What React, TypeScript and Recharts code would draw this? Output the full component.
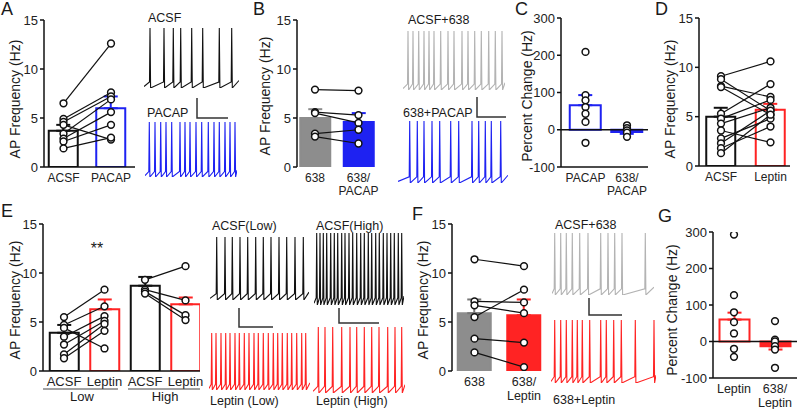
import React from "react";
import {
  ComposedChart,
  LineChart,
  Bar,
  Line,
  Cell,
  XAxis,
  YAxis,
  ErrorBar,
  ReferenceLine,
} from "recharts";

const FONT = '"Liberation Sans", Arial, Helvetica, sans-serif';
const INK = "#111";
const BLUE = "#1e22f2";
const RED = "#ff2323";
const GRAY_BAR = "#8d8d8d";
const GRAY_TRACE = "#b3b3b3";

// ---- panel A: ACSF vs PACAP
const aCats = ["ACSF", "PACAP"];
const aMeans = [3.7, 6.0];
const aErrs = [[0, 0.6], [0, 1.2]];
const aPairs = [
  [6.5, 12.6], [4.9, 7.6], [4.6, 7.2], [4.3, 2.8],
  [3.4, 6.9], [2.9, 5.6], [2.6, 4.3], [1.9, 3.0],
];

// ---- panel B: 638 vs 638/PACAP
const bCats = ["638", "638/\nPACAP"];
const bMeans = [5.0, 4.6];
const bErrs = [[0, 0.9], [0, 0.9]];
const bPairs = [[7.9, 7.8], [5.6, 5.3], [5.5, 4.5], [3.4, 3.8], [3.1, 2.4]];

// ---- panel C: percent change
const cCats = ["PACAP", "638/\nPACAP"];
const cMeans = [66, -6];
const cErrs = [[0, 27], [5, 0]];
const cPacap = [209, 93, 79, 61, 43, 21, -35];
const c638 = [12, 4, -2, -8, -19];

// ---- panel D: ACSF vs Leptin
const dCats = ["ACSF", "Leptin"];
const dMeans = [5.0, 5.7];
const dErrs = [[0, 0.9], [0, 0.6]];
const dPairs = [
  [9.1, 10.6], [8.8, 5.6], [8.1, 7.0], [8.0, 5.2], [5.3, 8.3], [4.8, 6.7],
  [4.3, 5.9], [3.6, 2.4], [2.8, 4.8], [2.3, 5.6], [1.8, 4.0], [1.3, 5.2],
];

// ---- panel E: low / high firing groups
const eCats = ["ACSF", "Leptin", "ACSF", "Leptin"];
const eMeans = [3.9, 6.3, 8.7, 6.8];
const eErrs = [[0, 0.8], [0, 1.0], [0, 0.9], [0, 0.7]];
const eLowPairs = [
  [5.5, 8.3], [4.7, 6.6], [4.4, 2.3], [3.5, 5.6], [2.7, 5.1], [1.7, 4.8], [1.3, 4.1],
];
const eHighPairs = [[9.3, 10.7], [8.3, 7.2], [8.1, 5.7], [7.9, 5.2]];

// ---- panel F: 638 vs 638/Leptin
const fCats = ["638", "638/\nLeptin"];
const fMeans = [5.9, 5.7];
const fErrs = [[0, 1.4], [0, 1.6]];
const fPairs = [[11.4, 10.7], [7.1, 7.0], [6.7, 5.9], [5.5, 8.3], [3.3, 2.9], [1.9, 0.4]];

// ---- panel G: percent change
const gCats = ["Leptin", "638/\nLeptin"];
const gMeans = [60, -13];
const gErrs = [[0, 19], [9, 0]];
const gLeptin = [293, 127, 80, 53, 22, -20, -42];
const g638 = [56, 5, 0, -13, -22, -72];

// ---- example traces: spike times (from trace start) and trace length
const trAcsfA = [6, 20, 29.3, 36.7, 47.7, 58.7, 75.3, 87.7];
const trPacapA = [4.3, 10, 15.7, 21, 26.7, 35, 40, 45, 51, 56.7, 63.3, 69, 74.3, 80, 85, 90];
const tr638B = [5, 10, 15.7, 21, 26, 31, 37.7, 45, 51, 59, 65, 71.7, 78.3, 85.7, 92.3, 99];
const trPacapB = [11.7, 19.3, 26, 34, 41.7, 52.7, 60.7, 74, 80.7, 87.3, 93.3, 102.7];
const trAcsfLow = [6.7, 15, 22.3, 30, 37.7, 45.7, 53.3, 61, 69, 76.7, 85, 93.3];
const trAcsfHigh = [
  2.7, 6, 9.3, 12.7, 16.7, 20.3, 23.7, 27.7, 31, 35, 38.7, 42.7,
  46.7, 50.3, 54.3, 57.7, 61.7, 65.3, 69.3, 73, 76.7, 80.3, 84.3, 87.7,
];
const trLepLow = [
  2.7, 7, 12, 16.7, 21, 26, 30.3, 35.3, 40, 45, 49.3, 54.3, 59.3, 64.3,
  68.7, 73.3, 78.3, 82.7, 87.7, 92.7, 96.7,
];
const trLepHigh = [5.3, 12, 19.7, 28.7, 37, 43.7, 51.3, 58.7, 66, 74.7, 82, 88.7];
const tr638F = [2.7, 8.7, 14.3, 20.3, 27.7, 36, 48.7, 56, 62.7, 70, 93.3];
const trLepF = [3.7, 9.7, 15.3, 21.3, 26.3, 31.3, 38.7, 49.7, 55.3, 62.7, 70.3, 84.3, 103];

type PairSet = { cols: number[]; values: number[][] };

function buildRows(cats: string[], means: number[], errs: number[][], sets: PairSet[]) {
  const rows: any[] = cats.map((c, i) => ({ x: i + 1, name: c, mean: means[i], [`err${i}`]: errs[i] }));
  const keys: string[] = [];
  sets.forEach((set, si) =>
    set.values.forEach((vals, vi) => {
      const key = `s${si}_${vi}`;
      keys.push(key);
      set.cols.forEach((col, k) => {
        rows[col][key] = vals[k];
      });
    })
  );
  return { rows, keys };
}

const V_PEAK = 20;
const V_THR = -52;
const V_TROUGH = -60;

function buildTrace(spikes: number[], end: number) {
  const pts = [{ t: 0, v: V_TROUGH + 2 }];
  spikes.forEach((s) => {
    pts.push({ t: s - 0.5, v: V_THR });
    pts.push({ t: s, v: V_PEAK });
    pts.push({ t: Math.min(s + 0.6, end), v: V_TROUGH });
  });
  const last = spikes[spikes.length - 1];
  if (last + 0.6 < end) pts.push({ t: end, v: V_THR + 2 });
  return pts;
}

function Trace({ left, top, height, end, spikes, color }: any) {
  const data = buildTrace(spikes, end);
  return (
    <div style={{ position: "absolute", left, top }}>
      <LineChart width={end} height={height} data={data} margin={{ top: 0, right: 0, bottom: 0, left: 0 }}>
        <XAxis type="number" dataKey="t" domain={[0, end]} hide />
        <YAxis type="number" domain={[V_TROUGH, V_PEAK]} hide />
        <Line type="linear" dataKey="v" stroke={color} strokeWidth={1.1} dot={false} isAnimationActive={false} />
      </LineChart>
    </div>
  );
}

function CatTick({ x, y, payload, labels, fontSize }: any) {
  const label = labels[Math.round(payload.value) - 1] || "";
  return (
    <text x={x} y={y} textAnchor="middle" fontSize={fontSize} fill="#222">
      {label.split("\n").map((l: string, i: number) => (
        <tspan key={i} x={x} dy={i === 0 ? "0.71em" : "1.12em"}>
          {l}
        </tspan>
      ))}
    </text>
  );
}

function BarPanel(props: any) {
  const {
    cats, rows, keys, x0, x1, y0, y1, c1, c2, yDomain, yTicks, barSize,
    styles, axisLine, zeroLine, linked, catFont,
  } = props;
  const n = cats.length;
  const step = (c2 - c1) / (n - 1);
  const lo = 1 - (c1 - x0) / step;
  const hi = n + (x1 - c2) / step;
  return (
    <div style={{ position: "absolute", left: x0 - 45, top: y0 - 10 }}>
      <ComposedChart
        width={x1 - x0 + 50}
        height={y1 - y0 + 50}
        data={rows}
        margin={{ top: 10, right: 5, bottom: 0, left: 0 }}
      >
        <XAxis
          type="number"
          dataKey="x"
          domain={[lo, hi]}
          ticks={cats.map((_: string, i: number) => i + 1)}
          allowDataOverflow
          interval={0}
          height={40}
          tickLine={false}
          tickSize={0}
          tickMargin={6}
          axisLine={axisLine ? { stroke: INK, strokeWidth: 1.5 } : false}
          tick={(p: any) => <CatTick {...p} labels={cats} fontSize={catFont} />}
        />
        <YAxis
          type="number"
          domain={yDomain}
          ticks={yTicks}
          interval={0}
          width={45}
          tickSize={4}
          tickMargin={2}
          allowDataOverflow
          axisLine={{ stroke: INK, strokeWidth: 1.5 }}
          tickLine={{ stroke: INK, strokeWidth: 1.5 }}
          tick={{ fontSize: 13, fill: "#222" }}
        />
        <Bar dataKey="mean" barSize={barSize} strokeWidth={2} isAnimationActive={false}>
          {rows.map((_: any, i: number) => (
            <Cell key={`c${i}`} fill={styles[i].fill} stroke={styles[i].stroke} />
          ))}
          {rows.map((_: any, i: number) => (
            <ErrorBar
              key={`e${i}`}
              dataKey={`err${i}`}
              direction="y"
              width={7}
              stroke={styles[i].err || styles[i].stroke}
              strokeWidth={2}
            />
          ))}
        </Bar>
        {zeroLine && <ReferenceLine y={0} stroke={INK} strokeWidth={1.5} />}
        {keys.map((k: string) => (
          <Line
            key={k}
            type="linear"
            dataKey={k}
            stroke={linked ? INK : "none"}
            strokeWidth={1.2}
            dot={{ r: 3.4, fill: "#fff", stroke: INK, strokeWidth: 1.5 }}
            activeDot={false}
            isAnimationActive={false}
          />
        ))}
      </ComposedChart>
    </div>
  );
}

function Txt({ x, y, size = 12.5, children, center = false }: any) {
  return (
    <div
      style={{
        position: "absolute",
        left: x,
        top: y,
        fontSize: size,
        lineHeight: 1,
        whiteSpace: "nowrap",
        color: "#1a1a1a",
        transform: center ? "translateX(-50%)" : undefined,
      }}
    >
      {children}
    </div>
  );
}

function VLabel({ cx, cy, children }: any) {
  return (
    <div
      style={{
        position: "absolute",
        left: cx,
        top: cy,
        fontSize: 14,
        lineHeight: 1,
        whiteSpace: "nowrap",
        color: "#1a1a1a",
        transform: "translate(-50%, -50%) rotate(-90deg)",
      }}
    >
      {children}
    </div>
  );
}

const outline = (c: string) => ({ fill: "none", stroke: c });
const solid = (c: string, err?: string) => ({ fill: c, stroke: c, err });

export default function App() {
  const A = buildRows(aCats, aMeans, aErrs, [{ cols: [0, 1], values: aPairs }]);
  const B = buildRows(bCats, bMeans, bErrs, [{ cols: [0, 1], values: bPairs }]);
  const C = buildRows(cCats, cMeans, cErrs, [
    { cols: [0], values: cPacap.map((v) => [v]) },
    { cols: [1], values: c638.map((v) => [v]) },
  ]);
  const D = buildRows(dCats, dMeans, dErrs, [{ cols: [0, 1], values: dPairs }]);
  const E = buildRows(eCats, eMeans, eErrs, [
    { cols: [0, 1], values: eLowPairs },
    { cols: [2, 3], values: eHighPairs },
  ]);
  const F = buildRows(fCats, fMeans, fErrs, [{ cols: [0, 1], values: fPairs }]);
  const G = buildRows(gCats, gMeans, gErrs, [
    { cols: [0], values: gLeptin.map((v) => [v]) },
    { cols: [1], values: g638.map((v) => [v]) },
  ]);

  const freqTicks = [0, 5, 10, 15];
  const pctTicks = [-100, 0, 100, 200, 300];

  return (
    <div
      style={{
        position: "absolute",
        left: 0,
        top: 0,
        width: 800,
        height: 409,
        background: "#fff",
        fontFamily: FONT,
        overflow: "hidden",
      }}
    >
      {/* bar panels */}
      <BarPanel cats={aCats} {...A} x0={44} x1={135} y0={20} y1={167} c1={63.5} c2={111}
        yDomain={[0, 15]} yTicks={freqTicks} barSize={29} axisLine linked catFont={12}
        styles={[outline(INK), outline(BLUE)]} />
      <BarPanel cats={bCats} {...B} x0={297} x1={378} y0={20} y1={167} c1={315} c2={358.5}
        yDomain={[0, 15]} yTicks={freqTicks} barSize={30} axisLine={false} linked catFont={12}
        styles={[solid(GRAY_BAR), solid(BLUE)]} />
      <BarPanel cats={cCats} {...C} x0={561} x1={648} y0={18} y1={167} c1={585.5} c2={627}
        yDomain={[-100, 300]} yTicks={pctTicks} barSize={31} axisLine zeroLine linked={false} catFont={12}
        styles={[outline(BLUE), solid(BLUE)]} />
      <BarPanel cats={dCats} {...D} x0={699} x1={790} y0={18} y1={166} c1={721} c2={770.5}
        yDomain={[0, 15]} yTicks={freqTicks} barSize={29} axisLine linked catFont={12}
        styles={[outline(INK), outline(RED)]} />
      <BarPanel cats={eCats} {...E} x0={43} x1={200} y0={224} y1={371} c1={64} c2={185.5}
        yDomain={[0, 15]} yTicks={freqTicks} barSize={29} axisLine linked catFont={13}
        styles={[outline(INK), outline(RED), outline(INK), outline(RED)]} />
      <BarPanel cats={fCats} {...F} x0={452} x1={545} y0={224} y1={371} c1={474.5} c2={524}
        yDomain={[0, 15]} yTicks={freqTicks} barSize={33} axisLine={false} linked catFont={12.5}
        styles={[solid(GRAY_BAR, "#777"), solid(RED)]} />
      <BarPanel cats={gCats} {...G} x0={713} x1={797} y0={232} y1={378} c1={734} c2={775}
        yDomain={[-100, 300]} yTicks={pctTicks} barSize={30} axisLine zeroLine linked={false} catFont={12.5}
        styles={[outline(RED), solid(RED)]} />

      {/* example traces */}
      <Trace left={144} top={28} height={60} end={95} spikes={trAcsfA} color={INK} />
      <Trace left={145} top={122} height={55} end={92} spikes={trPacapA} color={BLUE} />
      <Trace left={403} top={31} height={59} end={102} spikes={tr638B} color={GRAY_TRACE} />
      <Trace left={398} top={121} height={62} end={110} spikes={trPacapB} color={BLUE} />
      <Trace left={210} top={237} height={63} end={99} spikes={trAcsfLow} color={INK} />
      <Trace left={314} top={233} height={72} end={90} spikes={trAcsfHigh} color={INK} />
      <Trace left={209} top={333} height={57} end={101} spikes={trLepLow} color={RED} />
      <Trace left={313} top={327} height={66} end={92} spikes={trLepHigh} color={RED} />
      <Trace left={552} top={233} height={62} end={102} spikes={tr638F} color={GRAY_TRACE} />
      <Trace left={551} top={320} height={63} end={105} spikes={trLepF} color={RED} />

      {/* scale bars and group underlines */}
      <svg width={800} height={409} style={{ position: "absolute", left: 0, top: 0, pointerEvents: "none" }}>
        <g fill="none" stroke="#333" strokeWidth={1.5}>
          <path d="M197 98 V118 H228" />
          <path d="M477 97 V117 H506" />
          <path d="M239 308 V327 H273" />
          <path d="M339 308 V323 H379" />
          <path d="M589 298 V315 H622" />
        </g>
        <g stroke="#444" strokeWidth={1}>
          <line x1={43} y1={389} x2={118} y2={389} />
          <line x1={128} y1={389} x2={200} y2={389} />
        </g>
      </svg>

      {/* axis titles */}
      <VLabel cx={15} cy={99}>AP Frequency (Hz)</VLabel>
      <VLabel cx={265} cy={96}>AP Frequency (Hz)</VLabel>
      <VLabel cx={527} cy={96}>Percent Change (Hz)</VLabel>
      <VLabel cx={670} cy={99}>AP Frequency (Hz)</VLabel>
      <VLabel cx={15} cy={300}>AP Frequency (Hz)</VLabel>
      <VLabel cx={423} cy={300}>AP Frequency (Hz)</VLabel>
      <VLabel cx={672} cy={310}>Percent Change (Hz)</VLabel>

      {/* panel letters */}
      <Txt x={1} y={0} size={18}>A</Txt>
      <Txt x={253} y={0} size={18}>B</Txt>
      <Txt x={515} y={0} size={18}>C</Txt>
      <Txt x={655} y={0} size={18}>D</Txt>
      <Txt x={1} y={202} size={18}>E</Txt>
      <Txt x={412} y={205} size={18}>F</Txt>
      <Txt x={658} y={207} size={18}>G</Txt>

      {/* trace labels */}
      <Txt x={148} y={11.5}>ACSF</Txt>
      <Txt x={147} y={106.5}>PACAP</Txt>
      <Txt x={408} y={13.5}>ACSF+638</Txt>
      <Txt x={403} y={106.5}>638+PACAP</Txt>
      <Txt x={212} y={220}>ACSF(Low)</Txt>
      <Txt x={316} y={220}>ACSF(High)</Txt>
      <Txt x={210} y={395}>Leptin (Low)</Txt>
      <Txt x={316} y={395}>Leptin (High)</Txt>
      <Txt x={555} y={218.5}>ACSF+638</Txt>
      <Txt x={553} y={393.5}>638+Leptin</Txt>

      {/* E annotations */}
      <Txt x={97} y={241} size={16} center>**</Txt>
      <Txt x={82} y={390} size={13} center>Low</Txt>
      <Txt x={165} y={390} size={13} center>High</Txt>
    </div>
  );
}
